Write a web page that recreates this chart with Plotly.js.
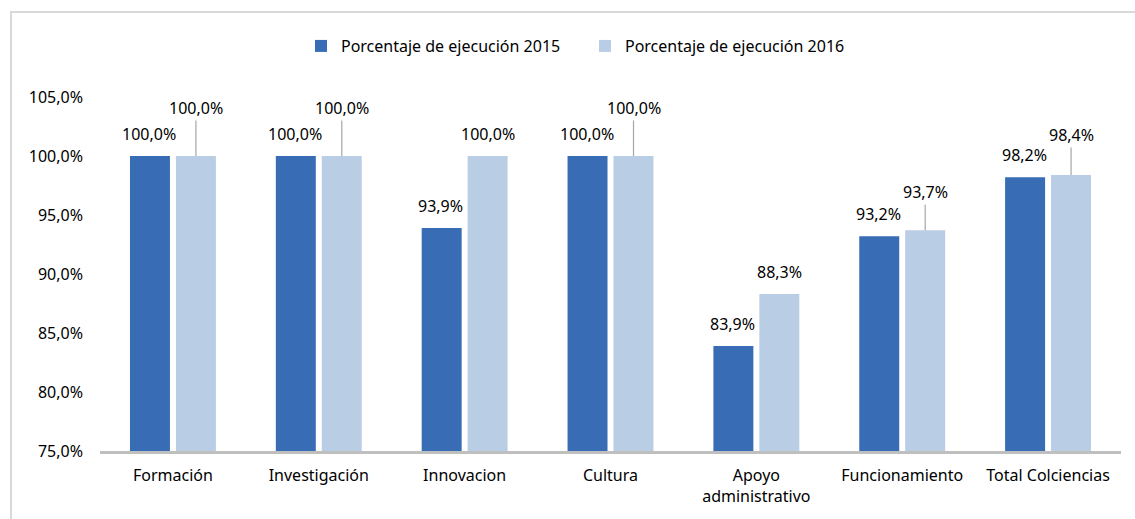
<!DOCTYPE html>
<html>
<head>
<meta charset="utf-8">
<script src="https://cdn.plot.ly/plotly-3.0.1.min.js"></script>
<style>
  html, body { margin: 0; padding: 0; background: #ffffff; }
  #frame { position: absolute; left: 10px; top: 11px; width: 1200px; height: 600px;
           border-left: 2px solid #d9d9d9; border-top: 2px solid #d9d9d9; z-index: 0; }
  #chart { position: absolute; left: 0; top: 0; width: 1135px; height: 519px; z-index: 1; }
</style>
</head>
<body>
<div id="frame"></div>
<div id="chart"></div>
<script>
// ---- data ----
const categories = ['Formación', 'Investigación', 'Innovacion', 'Cultura',
                    'Apoyo<br>administrativo', 'Funcionamiento', 'Total Colciencias'];
const series2015Name = 'Porcentaje de ejecución 2015';
const series2016Name = 'Porcentaje de ejecución 2016';
const values2015 = [100.0, 100.0, 93.9, 100.0, 83.9, 93.2, 98.2];
const values2016 = [100.0, 100.0, 100.0, 100.0, 88.3, 93.7, 98.4];
const yTicks = [75, 80, 85, 90, 95, 100, 105];

// ---- style (label leader-line lifts for 2016, in px; 0 = plain label) ----
const leaderLift2016 = [48, 48, 0, 48, 0, 38, 40];

const FONT = 'Noto Sans, Open Sans, sans-serif';
const FS = 16;
const fmt = v => v.toFixed(1).replace('.', ',') + '%';

const traces = [
  { type: 'bar', name: series2015Name, x: categories, y: values2015,
    marker: { color: '#386cb4' }, hoverinfo: 'none' },
  { type: 'bar', name: series2016Name, x: categories, y: values2016,
    marker: { color: '#b9cde5' }, hoverinfo: 'none' }
];

const annotations = [];
categories.forEach((c, i) => {
  annotations.push({ x: c, y: values2015[i], xref: 'x', yref: 'y', text: fmt(values2015[i]),
    showarrow: false, xshift: -24, yshift: 22, yanchor: 'middle',
    font: { family: FONT, size: FS, color: '#000' } });
  const lift = leaderLift2016[i];
  if (lift > 0) {
    annotations.push({ x: c, y: values2016[i], xref: 'x', yref: 'y', text: fmt(values2016[i]),
      showarrow: true, arrowhead: 0, arrowwidth: 1.2, arrowcolor: '#a6a6a6',
      ax: 0, ay: -lift, standoff: 0, xshift: 23,
      font: { family: FONT, size: FS, color: '#000' } });
  } else {
    annotations.push({ x: c, y: values2016[i], xref: 'x', yref: 'y', text: fmt(values2016[i]),
      showarrow: false, xshift: 23, yshift: 22, yanchor: 'middle',
      font: { family: FONT, size: FS, color: '#000' } });
  }
});

const layout = {
  width: 1135, height: 519,
  margin: { l: 100, r: 14, t: 97, b: 68, pad: 0 },
  paper_bgcolor: 'rgba(0,0,0,0)', plot_bgcolor: 'rgba(0,0,0,0)',
  font: { family: FONT, size: FS, color: '#000' },
  separators: ',.',
  barmode: 'group', bargap: 0.37, bargroupgap: 0.13,
  showlegend: true,
  legend: { orientation: 'h', x: 0.475, xanchor: 'center', y: 1.144, yanchor: 'middle',
            entrywidth: 239, entrywidthmode: 'pixels', itemwidth: 30,
            font: { family: FONT, size: FS, color: '#000' } },
  xaxis: { type: 'category', showline: true, linecolor: '#bfbfbf', linewidth: 3,
           ticks: '', showgrid: false, zeroline: false, fixedrange: true,
           ticklabelstandoff: 8 },
  yaxis: { range: [75, 105], tickmode: 'array', tickvals: yTicks, ticktext: yTicks.map(fmt),
           showgrid: false, zeroline: false, showline: false, ticks: '',
           ticklabelstandoff: 16, fixedrange: true },
  annotations: annotations
};

Plotly.newPlot('chart', traces, layout, { displayModeBar: false, staticPlot: true });
</script>
</body>
</html>
